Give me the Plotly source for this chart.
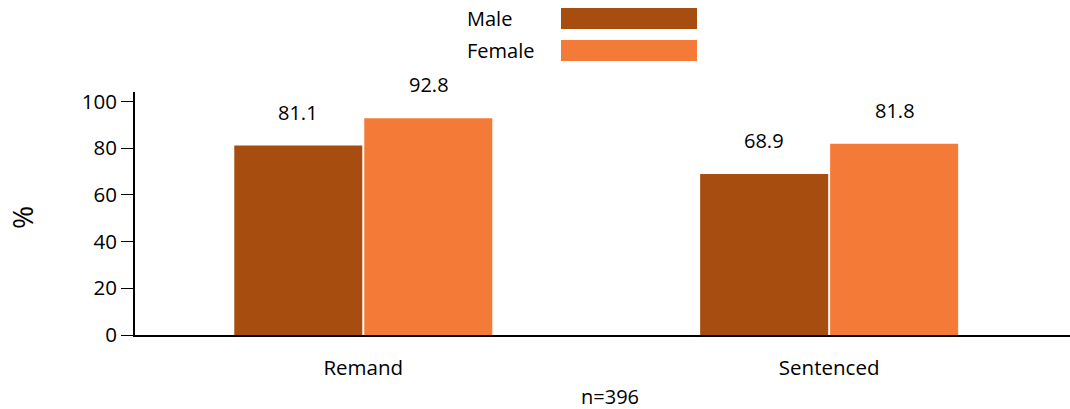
import plotly.graph_objects as go

categories = ["Remand", "Sentenced"]
male = [81.1, 68.9]
female = [92.8, 81.8]
series_names = ["Male", "Female"]
colors = ["#A64D0F", "#F47A37"]
tick_vals = [0, 20, 40, 60, 80, 100]
note = "n=396"

FONT = "Open Sans"
TXT = "#000"
W, H = 1070, 409
L, R, T, B = 135, 0, 92, 74
pw, ph = W - L - R, H - T - B

fig = go.Figure()
for name, vals, col in zip(series_names, [male, female], colors):
    fig.add_trace(go.Bar(x=categories, y=vals, name=name, marker_color=col,
                         marker_line_width=0, showlegend=False))

# value labels above each bar
shift = 65.5
for vals, dx in [(male, -shift), (female, shift)]:
    for c, v in zip(categories, vals):
        fig.add_annotation(x=c, y=v, xref="x", yref="y", text=f"{v:.1f}",
                           showarrow=False, xshift=dx, yshift=18, yanchor="bottom",
                           font=dict(family=FONT, size=20, color=TXT))

# legend drawn as wide swatches
def px_x(p):
    return (p - L) / pw

def px_y(p):
    return (H - B - p) / ph

for i, (name, col) in enumerate(zip(series_names, colors)):
    y0, y1 = 8 + i * 32, 29 + i * 32
    fig.add_shape(type="rect", xref="paper", yref="paper",
                  x0=px_x(561), x1=px_x(697), y0=px_y(y1), y1=px_y(y0),
                  fillcolor=col, line_width=0)
    fig.add_annotation(xref="paper", yref="paper", x=px_x(465), y=px_y((y0 + y1) / 2),
                       text=name, showarrow=False, xanchor="left", yanchor="middle",
                       font=dict(family=FONT, size=20, color=TXT))

fig.add_annotation(xref="paper", yref="paper", x=px_x(22), y=px_y(218), text="%",
                   textangle=-90, showarrow=False, xanchor="center", yanchor="middle",
                   font=dict(family=FONT, size=28, color=TXT))
fig.add_annotation(xref="paper", yref="paper", x=px_x(610), y=px_y(396), text=note,
                   showarrow=False, xanchor="center", yanchor="middle",
                   font=dict(family=FONT, size=20, color=TXT))

fig.update_layout(
    width=W, height=H, margin=dict(l=L, r=R, t=T, b=B),
    paper_bgcolor="white", plot_bgcolor="white",
    barmode="group", bargap=0.442, bargroupgap=0.015,
    font=dict(family=FONT, size=20, color=TXT),
)
fig.update_xaxes(range=[-0.49, 1.517], showline=True, linecolor="black", linewidth=2,
                 showgrid=False, ticks="", ticklabelstandoff=13, automargin=False,
                 tickfont=dict(family=FONT, size=20.5, color=TXT))
fig.update_yaxes(range=[0, 104.0], showline=True, linecolor="black", linewidth=2,
                 showgrid=False, zeroline=False, tickvals=tick_vals, ticks="outside",
                 ticklen=12, tickwidth=1, tickcolor="black", automargin=False,
                 tickfont=dict(family=FONT, size=20.5, color=TXT))

fig.write_html("out.html")
